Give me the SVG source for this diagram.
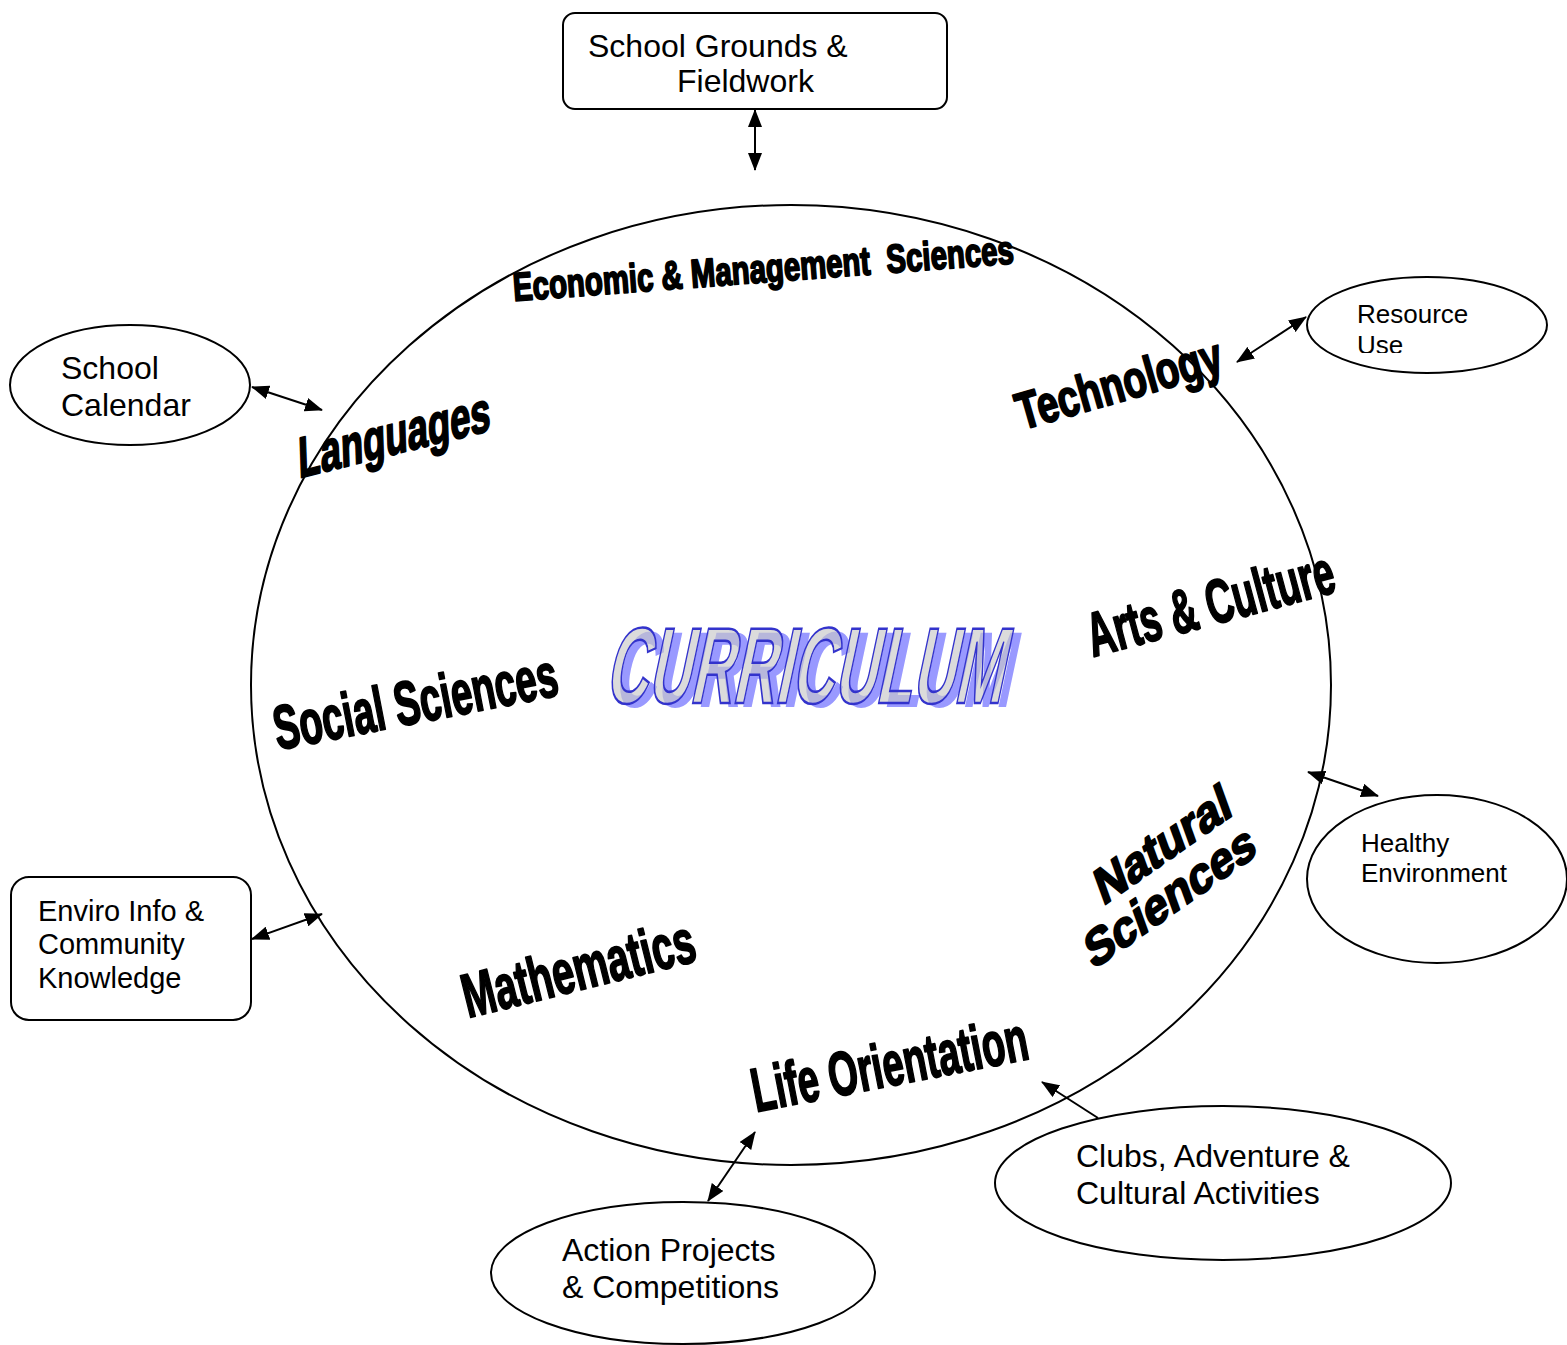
<svg xmlns="http://www.w3.org/2000/svg" width="1567" height="1345" viewBox="0 0 1567 1345">
<style>
.shape{fill:#fff;stroke:#000;stroke-width:2}
.lbl{font-family:"Liberation Sans",Arial,sans-serif;fill:#000}
.subj{font-family:"Liberation Sans",Arial,sans-serif;font-weight:bold;fill:#000;stroke:#000;stroke-width:2;stroke-linejoin:round;white-space:pre}
.conn{stroke:#000;stroke-width:2;fill:none}
</style>
<defs>
<marker id="ah" markerUnits="userSpaceOnUse" markerWidth="18" markerHeight="14" refX="17" refY="7" orient="auto-start-reverse">
<path d="M0,0 L18,7 L0,14 z" fill="#000"/>
</marker>
<clipPath id="ruClip"><rect x="1300" y="270" width="260" height="83"/></clipPath>
</defs>
<rect width="1567" height="1345" fill="#fff"/>

<g id="curriculum-circle">
<ellipse cx="791" cy="685" rx="540" ry="480" class="shape"/>
</g>

<g id="subjects">
<text class="subj" font-size="40" textLength="502" lengthAdjust="spacingAndGlyphs" transform="translate(514,301) rotate(-4.3)">Economic &amp; Management  Sciences</text>
<text class="subj" font-size="56" textLength="198" lengthAdjust="spacingAndGlyphs" transform="translate(299,478) rotate(-14) skewX(-12)">Languages</text>
<text class="subj" font-size="52" textLength="212" lengthAdjust="spacingAndGlyphs" transform="translate(1022,430) rotate(-16)">Technology</text>
<text class="subj" font-size="62" textLength="254" lengthAdjust="spacingAndGlyphs" transform="translate(1093,657) rotate(-15)">Arts &amp; Culture</text>
<text class="subj" font-size="62" textLength="288" lengthAdjust="spacingAndGlyphs" transform="translate(278,750) rotate(-11)">Social Sciences</text>
<text class="subj" font-size="62" textLength="238" lengthAdjust="spacingAndGlyphs" transform="translate(468,1018) rotate(-14)">Mathematics</text>
<text class="subj" font-size="62" textLength="280" lengthAdjust="spacingAndGlyphs" transform="translate(756,1112) rotate(-11)">Life Orientation</text>
<text class="subj" font-size="48" textLength="160" lengthAdjust="spacingAndGlyphs" transform="translate(1103,906) rotate(-35) skewX(-15)">Natural</text>
<text class="subj" font-size="48" textLength="202" lengthAdjust="spacingAndGlyphs" transform="translate(1093,970) rotate(-35) skewX(-15)">Sciences</text>
</g>

<g id="curriculum-title">
<text font-family="Liberation Sans,Arial,sans-serif" font-weight="bold" font-size="108" textLength="398" lengthAdjust="spacingAndGlyphs" fill="#9999ff" transform="translate(612,707) skewX(-12)">CURRICULUM</text>
<text font-family="Liberation Sans,Arial,sans-serif" font-weight="bold" font-size="108" textLength="398" lengthAdjust="spacingAndGlyphs" fill="#c8c8c8" fill-opacity="0.65" stroke="#3333cc" stroke-width="2.5" transform="translate(604,703) skewX(-12)">CURRICULUM</text>
</g>

<g id="school-grounds">
<rect x="563" y="13" width="384" height="96" rx="12" class="shape"/>
<text class="lbl" font-size="32" x="588" y="57">School Grounds &amp;</text>
<text class="lbl" font-size="32" x="677" y="92">Fieldwork</text>
</g>

<g id="school-calendar">
<ellipse cx="130" cy="385" rx="120" ry="60" class="shape"/>
<text class="lbl" font-size="32" x="61" y="379">School</text>
<text class="lbl" font-size="32" x="61" y="416">Calendar</text>
</g>

<g id="resource-use">
<ellipse cx="1427" cy="325" rx="120" ry="48" class="shape"/>
<g clip-path="url(#ruClip)">
<text class="lbl" font-size="26" x="1357" y="323">Resource</text>
<text class="lbl" font-size="26" x="1357" y="354">Use</text>
</g>
</g>

<g id="healthy-environment">
<ellipse cx="1437" cy="879" rx="130" ry="84" class="shape"/>
<text class="lbl" font-size="26" x="1361" y="852">Healthy</text>
<text class="lbl" font-size="26" x="1361" y="882">Environment</text>
</g>

<g id="enviro-info">
<rect x="11" y="877" width="240" height="143" rx="18" class="shape"/>
<text class="lbl" font-size="29" x="38" y="921">Enviro Info &amp;</text>
<text class="lbl" font-size="29" x="38" y="954">Community</text>
<text class="lbl" font-size="29" x="38" y="988">Knowledge</text>
</g>

<g id="action-projects">
<ellipse cx="683" cy="1273" rx="192" ry="71" class="shape"/>
<text class="lbl" font-size="32" x="562" y="1261">Action Projects</text>
<text class="lbl" font-size="32" x="562" y="1298">&amp; Competitions</text>
</g>

<g id="clubs">
<ellipse cx="1223" cy="1183" rx="228" ry="77" class="shape"/>
<text class="lbl" font-size="32" x="1076" y="1167">Clubs, Adventure &amp;</text>
<text class="lbl" font-size="32" x="1076" y="1204">Cultural Activities</text>
</g>

<g id="connectors">
<line class="conn" x1="755" y1="110" x2="755" y2="170" marker-start="url(#ah)" marker-end="url(#ah)"/>
<line class="conn" x1="252" y1="387" x2="322" y2="410" marker-start="url(#ah)" marker-end="url(#ah)"/>
<line class="conn" x1="1237" y1="362" x2="1306" y2="317" marker-start="url(#ah)" marker-end="url(#ah)"/>
<line class="conn" x1="1308" y1="772" x2="1378" y2="796" marker-start="url(#ah)" marker-end="url(#ah)"/>
<line class="conn" x1="252" y1="939" x2="322" y2="914" marker-start="url(#ah)" marker-end="url(#ah)"/>
<line class="conn" x1="708" y1="1201" x2="755" y2="1132" marker-start="url(#ah)" marker-end="url(#ah)"/>
<line class="conn" x1="1098" y1="1118" x2="1042" y2="1082" marker-end="url(#ah)"/>
</g>
</svg>
